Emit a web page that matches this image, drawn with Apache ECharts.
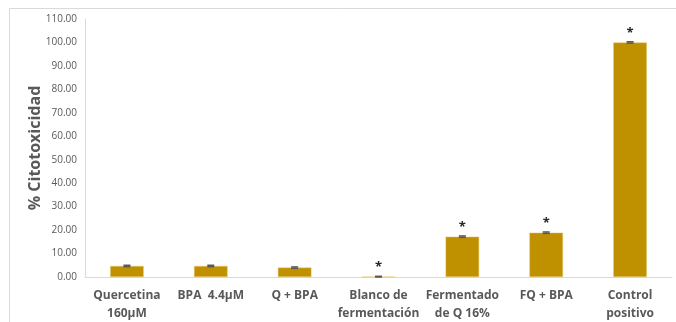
<!DOCTYPE html>
<html>
<head>
<meta charset="utf-8">
<script src="https://cdn.jsdelivr.net/npm/echarts@6/dist/echarts.min.js"></script>
<style>
  html, body { margin: 0; padding: 0; background: #fff; }
  #chart { width: 676px; height: 322px; }
</style>
</head>
<body>
<div id="chart"></div>
<script>
const categories = ['Quercetina\n160µM', 'BPA  4.4µM', 'Q + BPA', 'Blanco de\nfermentación', 'Fermentado\nde Q 16%', 'FQ + BPA', 'Control\npositivo'];
const values = [4.7, 4.7, 4.0, 0.1, 17.2, 18.9, 100.0];
const errors = [0.3, 0.3, 0.3, 0.2, 0.3, 0.3, 0.3];
const marks = ['', '', '', '*', '*', '*', '*'];
const yTicks = { min: 0, max: 110, interval: 10 };

const chart = echarts.init(document.getElementById('chart'));
const textColor = '#595959';

const option = {
  animation: false,
  graphic: [
    {
      type: 'rect',
      left: 7,
      top: 6,
      shape: { width: 700, height: 340 },
      style: { fill: 'none', stroke: '#d9d9d9', lineWidth: 1 },
      silent: true
    }
  ],
  grid: { left: 85, right: 4, top: 19, bottom: 45, containLabel: false, outerBoundsMode: 'none' },
  xAxis: {
    type: 'category',
    data: categories,
    axisLine: { lineStyle: { color: '#d9d9d9', width: 1 } },
    axisTick: { show: false },
    axisLabel: {
      color: textColor,
      fontFamily: 'Open Sans',
      fontWeight: 'bold',
      fontSize: 12,
      lineHeight: 18,
      margin: 10,
      interval: 0
    }
  },
  yAxis: {
    type: 'value',
    min: yTicks.min,
    max: yTicks.max,
    interval: yTicks.interval,
    name: '% Citotoxicidad',
    nameLocation: 'middle',
    nameGap: 42,
    nameMoveOverlap: false,
    nameTextStyle: {
      color: textColor,
      fontFamily: 'Open Sans',
      fontWeight: 'bold',
      fontSize: 16
    },
    axisLine: { show: true, lineStyle: { color: '#d9d9d9', width: 1 } },
    axisTick: { show: false },
    splitLine: { show: false },
    axisLabel: {
      color: textColor,
      fontFamily: 'Open Sans',
      fontSize: 10,
      margin: 8,
      formatter: v => v.toFixed(2)
    }
  },
  series: [
    {
      type: 'bar',
      data: values,
      barWidth: '40%',
      itemStyle: { color: '#BF9000', borderColor: '#e8c76a', borderWidth: 0.5 }
    },
    {
      type: 'custom',
      data: values.map((v, i) => [i, v, errors[i]]),
      renderItem: (params, api) => {
        const i = api.value(0);
        const v = api.value(1);
        const e = api.value(2);
        const top = api.coord([i, v + e]);
        const bot = api.coord([i, Math.max(0, v - e)]);
        const half = 3.5;
        const children = [
          { type: 'line', shape: { x1: top[0], y1: top[1], x2: bot[0], y2: bot[1] }, style: { stroke: '#7f7f7f', lineWidth: 1 } },
          { type: 'line', shape: { x1: top[0] - half, y1: top[1], x2: top[0] + half, y2: top[1] }, style: { stroke: '#595959', lineWidth: 1.5 } },
          { type: 'line', shape: { x1: bot[0] - half, y1: bot[1], x2: bot[0] + half, y2: bot[1] }, style: { stroke: '#595959', lineWidth: 1.5 } }
        ];
        const m = marks[i];
        if (m) {
          children.push({
            type: 'text',
            x: top[0],
            y: top[1] - 2,
            style: {
              text: m,
              fill: '#262626',
              font: 'bold 13px "Open Sans"',
              textAlign: 'center',
              textVerticalAlign: 'bottom'
            }
          });
        }
        return { type: 'group', children };
      },
      z: 5
    }
  ]
};

chart.setOption(option);
</script>
</body>
</html>
